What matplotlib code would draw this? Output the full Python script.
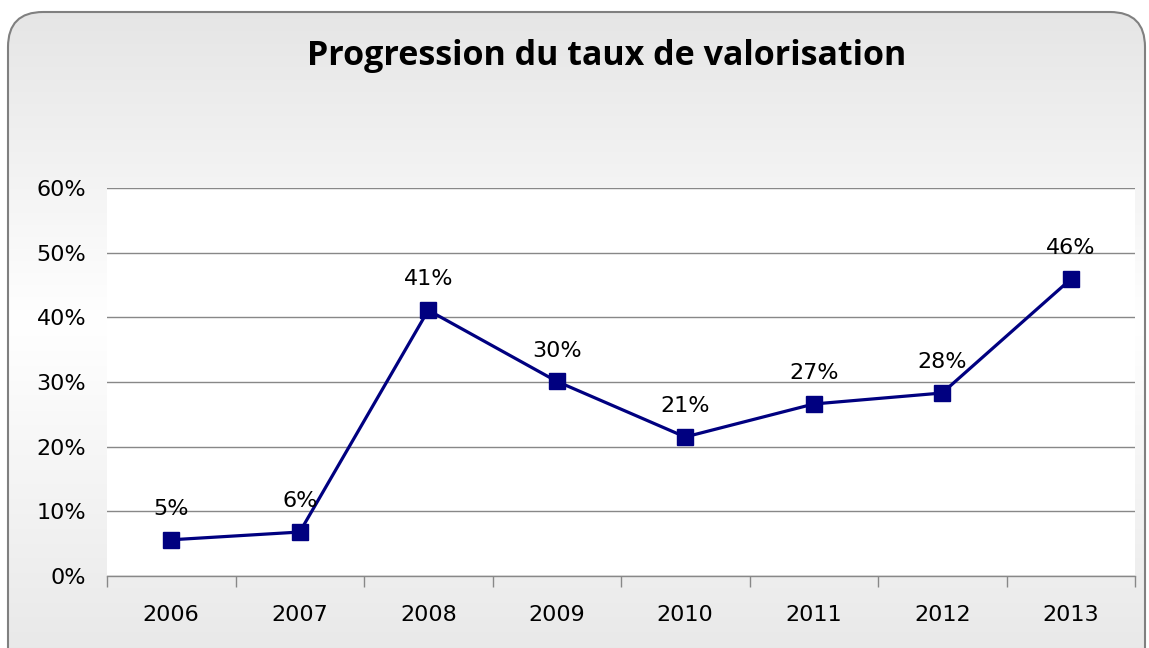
import numpy as np
import matplotlib
matplotlib.use("Agg")
import matplotlib.pyplot as plt
from matplotlib.patches import FancyBboxPatch
from matplotlib.ticker import FuncFormatter, FixedLocator

annees = ["2006", "2007", "2008", "2009", "2010", "2011", "2012", "2013"]
taux = [5.6, 6.8, 41.1, 30.1, 21.5, 26.6, 28.3, 45.9]
etiquettes = ["5%", "6%", "41%", "30%", "21%", "27%", "28%", "46%"]

W, H = 1149, 648
fig = plt.figure(figsize=(W / 100, H / 100), dpi=100)
fig.patch.set_facecolor("white")

# fond arrondi avec dégradé
bg = fig.add_axes([0, 0, 1, 1], zorder=0)
bg.axis("off")
t = np.linspace(0, 1, 300)
grad = np.interp(t, [0, 0.45, 1], [0.90, 1.0, 0.90])
g = np.repeat(grad[:, None], 2, axis=1)
img = np.dstack([g, g, g])
im = bg.imshow(img, extent=[8, 1145, 700, 12], aspect="auto", zorder=0)
box = FancyBboxPatch((8, 12), 1137, 688, boxstyle="round,pad=0,rounding_size=35",
                     facecolor="none", edgecolor="#808080", linewidth=1.5, zorder=1)
bg.add_patch(box)
im.set_clip_path(box)
bg.set_xlim(0, W)
bg.set_ylim(H, 0)

fig.text(607 / W, 1 - 56 / H, "Progression du taux de valorisation",
         ha="center", va="center", fontsize=24.5, fontweight="bold",
         family="Open Sans", color="black")

ax = fig.add_axes([107 / W, 72 / H, 1028 / W, 388 / H], zorder=2)
ax.set_facecolor("white")
x = np.arange(len(annees))
ax.plot(x, taux, color="#000080", linewidth=2.3, marker="s", markersize=11,
        zorder=3, clip_on=False)
for xi, yi, lab in zip(x, taux, etiquettes):
    ax.annotate(lab, (xi, yi), xytext=(0, 15), textcoords="offset points",
                ha="center", va="bottom", fontsize=16, color="black")

ax.set_xlim(-0.5, len(annees) - 0.5)
ax.set_ylim(0, 60)
ax.set_yticks(np.arange(0, 61, 10))
ax.yaxis.set_major_formatter(FuncFormatter(lambda v, p: f"{v:.0f}%"))
ax.set_xticks(x)
ax.set_xticklabels(annees)
ax.xaxis.set_minor_locator(FixedLocator(np.arange(-0.5, len(annees), 1)))
ax.tick_params(axis="x", which="major", length=0, pad=21, labelsize=16)
ax.tick_params(axis="x", which="minor", length=8, width=1, color="#888888", direction="out")
ax.tick_params(axis="y", length=0, pad=15, labelsize=16)
ax.grid(axis="y", color="#888888", linewidth=1)
ax.set_axisbelow(True)
for s in ["left", "right", "top"]:
    ax.spines[s].set_visible(False)
ax.spines["bottom"].set_color("#888888")
ax.spines["bottom"].set_linewidth(1)

fig.savefig("out.png", dpi=100)
